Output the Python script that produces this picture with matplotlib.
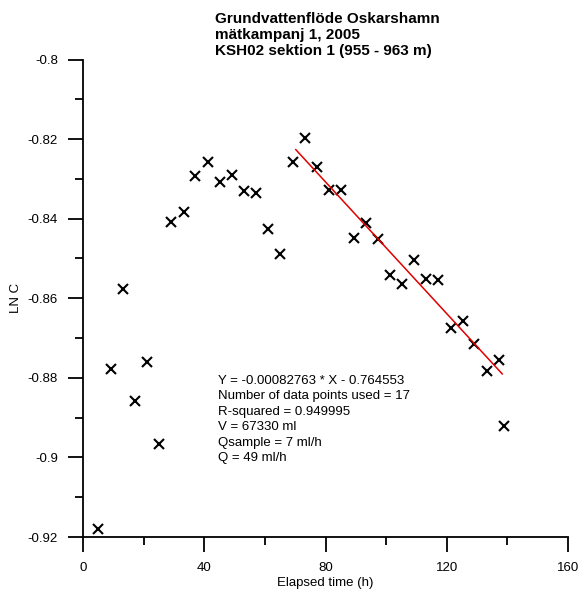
import matplotlib
matplotlib.use("Agg")
import matplotlib.pyplot as plt
from matplotlib.ticker import MultipleLocator

plt.rcParams['font.family'] = ['Liberation Sans', 'DejaVu Sans']

elapsed_h = [5.0, 9.1, 13.1, 17.2, 21.2, 25.2, 29.0, 33.2, 37.0, 41.1, 45.2, 49.2,
             53.1, 57.2, 61.1, 65.1, 69.2, 73.2, 77.2, 81.2, 85.2, 89.3, 93.3, 97.2,
             101.3, 105.2, 109.2, 113.2, 117.2, 121.3, 125.3, 129.1, 133.4, 137.2, 139.0]
ln_c = [-0.9180, -0.8777, -0.8577, -0.8857, -0.8760, -0.8967, -0.8409, -0.8384,
        -0.8294, -0.8257, -0.8309, -0.8291, -0.8330, -0.8335, -0.8425, -0.8490,
        -0.8257, -0.8197, -0.8270, -0.8328, -0.8328, -0.8448, -0.8412, -0.8450,
        -0.8542, -0.8565, -0.8504, -0.8551, -0.8553, -0.8674, -0.8656, -0.8714,
        -0.8782, -0.8756, -0.8920]

fit_slope = -0.00082763
fit_intercept = -0.764553
fit_x = [70.2, 138.3]
fit_y = [fit_slope * v + fit_intercept for v in fit_x]

x_ticks = [0, 40, 80, 120, 160]
x_tick_labels = ["0", "40", "80", "120", "160"]
y_ticks = [-0.92, -0.9, -0.88, -0.86, -0.84, -0.82, -0.8]
y_tick_labels = ["-0.92", "-0.9", "-0.88", "-0.86", "-0.84", "-0.82", "-0.8"]

title_lines = ["Grundvattenflöde Oskarshamn", "mätkampanj 1, 2005", "KSH02 sektion 1 (955 - 963 m)"]
info_lines = ["Y = -0.00082763 * X - 0.764553",
              "Number of data points used = 17",
              "R-squared = 0.949995",
              "V = 67330 ml",
              "Qsample = 7 ml/h",
              "Q = 49 ml/h"]

W, H = 584, 592
fig = plt.figure(figsize=(W / 100, H / 100), dpi=100)
ax = fig.add_axes([83 / W, (H - 537) / H, (568 - 83) / W, (537 - 59.5) / H])

ax.plot(elapsed_h, ln_c, linestyle='none', marker='x', color='black',
        markersize=6.5, markeredgewidth=1.5)
ax.plot(fit_x, fit_y, color='#e00000', linewidth=1.1)

ax.set_xlim(0, 160)
ax.set_ylim(-0.92, -0.80)
ax.set_xticks(x_ticks)
ax.set_xticklabels(x_tick_labels)
ax.xaxis.set_minor_locator(MultipleLocator(20))
ax.set_yticks(y_ticks)
ax.set_yticklabels(y_tick_labels)
ax.yaxis.set_minor_locator(MultipleLocator(0.01))

for s in ['top', 'right']:
    ax.spines[s].set_visible(False)
for s in ['left', 'bottom']:
    ax.spines[s].set_linewidth(1.3)

ax.tick_params(which='major', direction='out', length=11, width=1.3, labelsize=9.5, pad=7)
ax.tick_params(which='minor', direction='out', length=5.5, width=1.3)

ax.set_xlabel("Elapsed time (h)", fontsize=9.5, labelpad=2)
ax.set_ylabel("LN C", fontsize=9.5, labelpad=4)

fig.text(215 / W, 1 - 12 / H, "\n".join(title_lines), fontsize=11, fontweight='bold',
         ha='left', va='top', linespacing=1.17)

ax.text(44.5, -0.8793, "\n".join(info_lines), fontsize=9.5, ha='left', va='top',
        linespacing=1.38)

fig.savefig("out.png", dpi=100)
